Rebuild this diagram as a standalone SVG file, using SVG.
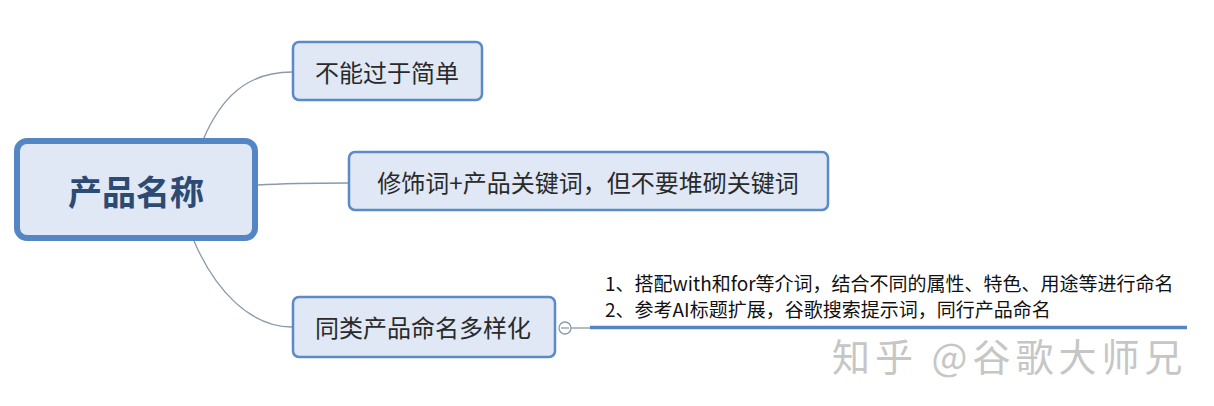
<svg xmlns="http://www.w3.org/2000/svg" width="1214" height="406" viewBox="0 0 1214 406">
<style>
.node{fill:#dfe8f4;stroke:#5b8ac6;stroke-width:2.5}
.root{fill:#dfe8f4;stroke:#5586c4;stroke-width:6}
.t{font-family:"Noto Sans CJK SC","Liberation Sans",sans-serif;fill:#2a2a2a;font-size:24px;text-anchor:middle;dominant-baseline:central}
.rt{font-family:"Noto Sans CJK SC","Liberation Sans",sans-serif;fill:#2d4a72;font-size:34px;font-weight:bold;text-anchor:middle;dominant-baseline:central}
.c{fill:none;stroke:#8a9aab;stroke-width:1.3}
.note{font-family:"Noto Sans CJK SC","Liberation Sans",sans-serif;fill:#111;font-size:19px}
.wm{font-family:"Noto Sans CJK SC","Liberation Sans",sans-serif;fill:#c6c6c6;font-size:38px;letter-spacing:5px}
</style>
<rect width="1214" height="406" fill="#ffffff"/>
<g id="connectors">
<path class="c" d="M203,140 C220,100 245,72 292,72"/>
<path class="c" d="M258,185 C290,183 320,183 348,183"/>
<path class="c" d="M194,241 C215,290 250,327 292,327"/>
<circle cx="565" cy="328" r="6" fill="#fff" stroke="#8a9aab" stroke-width="1.3"/>
<line x1="561" y1="328" x2="569" y2="328" stroke="#8a9aab" stroke-width="1.3"/>
<line x1="571" y1="328" x2="592" y2="328" stroke="#8a9aab" stroke-width="1.3"/>
<line x1="590" y1="327.5" x2="1187" y2="327.5" stroke="#5586c4" stroke-width="3.5"/>
</g>
<g id="root">
<rect class="root" x="17" y="141" width="238" height="97" rx="10"/>
<text class="rt" x="136" y="190">产品名称</text>
</g>
<g id="n1">
<rect class="node" x="293" y="42" width="189" height="58" rx="6"/>
<text class="t" x="387" y="71">不能过于简单</text>
</g>
<g id="n2">
<rect class="node" x="349" y="152" width="479" height="58" rx="6"/>
<text class="t" x="588" y="181">修饰词+产品关键词，但不要堆砌关键词</text>
</g>
<g id="n3">
<rect class="node" x="293" y="297" width="262" height="60" rx="6"/>
<text class="t" x="423" y="326">同类产品命名多样化</text>
</g>
<g id="note">
<text class="note" x="605" y="291">1、搭配with和for等介词，结合不同的属性、特色、用途等进行命名</text>
<text class="note" x="605" y="317">2、参考AI标题扩展，谷歌搜索提示词，同行产品命名</text>
</g>
<text class="wm" x="832" y="371">知乎 @谷歌大师兄</text>
</svg>
